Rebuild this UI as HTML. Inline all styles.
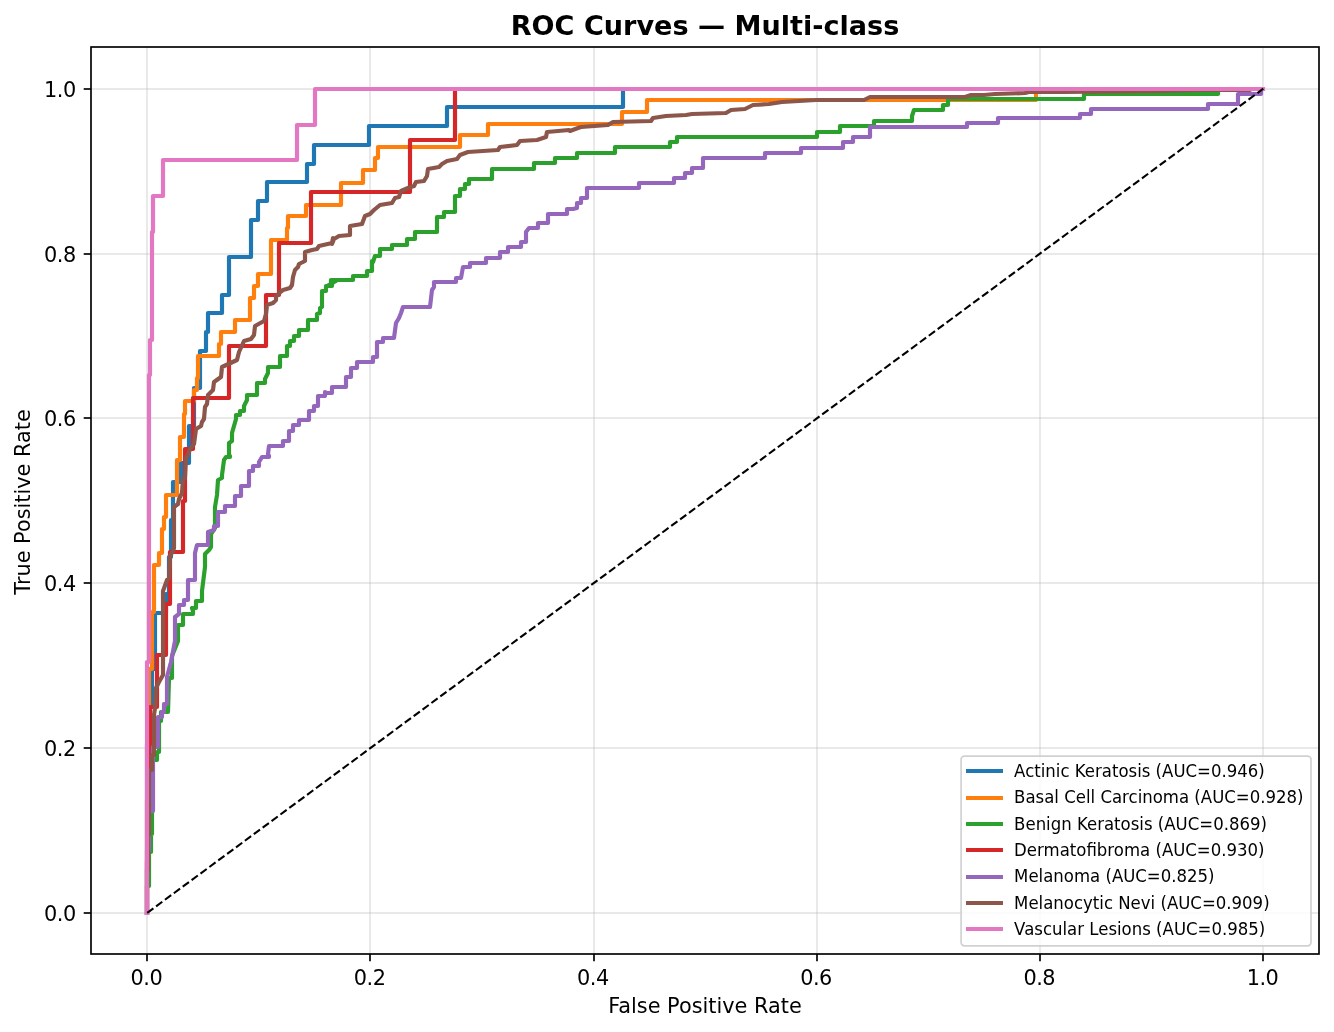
<!DOCTYPE html><html><head><meta charset="utf-8"><title>ROC Curves</title><style>html,body{margin:0;padding:0;background:#fff}svg{display:block}text{font-family:"DejaVu Sans","Liberation Sans",sans-serif;fill:#000}</style></head><body>
<svg width="1334" height="1032" viewBox="0 0 1334 1032">
<rect width="1334" height="1032" fill="#fff"/>
<g stroke="#b0b0b0" stroke-opacity="0.28" stroke-width="2">
<line x1="147" y1="47.0" x2="147" y2="954.0"/>
<line x1="91.0" y1="913" x2="1319.0" y2="913"/>
<line x1="370" y1="47.0" x2="370" y2="954.0"/>
<line x1="91.0" y1="748" x2="1319.0" y2="748"/>
<line x1="594" y1="47.0" x2="594" y2="954.0"/>
<line x1="91.0" y1="583" x2="1319.0" y2="583"/>
<line x1="817" y1="47.0" x2="817" y2="954.0"/>
<line x1="91.0" y1="418" x2="1319.0" y2="418"/>
<line x1="1040" y1="47.0" x2="1040" y2="954.0"/>
<line x1="91.0" y1="254" x2="1319.0" y2="254"/>
<line x1="1263" y1="47.0" x2="1263" y2="954.0"/>
<line x1="91.0" y1="89" x2="1319.0" y2="89"/>
</g>
<clipPath id="c"><rect x="91.0" y="47.0" width="1228.0" height="907.0"/></clipPath>
<g clip-path="url(#c)" fill="none" stroke-width="4.17" stroke-linejoin="round" stroke-linecap="square">
<path d="M147.0,913.0 L147.0,744.0 L150.0,744.0 L150.0,707.0 L152.0,707.0 L152.0,669.0 L155.0,669.0 L155.0,613.0 L166.0,613.0 L166.0,594.0 L169.0,594.0 L169.0,557.0 L171.0,557.0 L171.0,520.0 L173.0,520.0 L173.0,482.0 L181.0,482.0 L181.0,463.0 L189.0,463.0 L189.0,426.0 L194.0,426.0 L194.0,388.0 L200.0,388.0 L200.0,351.0 L206.0,351.0 L206.0,332.0 L208.0,332.0 L208.0,313.0 L222.0,313.0 L222.0,295.0 L229.0,295.0 L229.0,257.0 L251.0,257.0 L251.0,220.0 L258.0,220.0 L258.0,201.0 L267.0,201.0 L267.0,182.0 L307.0,182.0 L307.0,164.0 L314.0,164.0 L314.0,145.0 L369.0,145.0 L369.0,126.0 L447.0,126.0 L447.0,107.0 L623.0,107.0 L623.0,89.0 L1260.0,89.0" stroke="#1f77b4"/>
<path d="M147.0,913.0 L147.0,800.0 L149.0,800.0 L149.0,669.0 L152.0,669.0 L152.0,612.0 L154.0,612.0 L154.0,565.0 L159.0,565.0 L159.0,553.0 L162.0,553.0 L162.0,529.0 L164.0,529.0 L164.0,517.0 L166.0,517.0 L166.0,495.0 L177.0,495.0 L177.0,460.0 L180.0,460.0 L180.0,437.0 L184.0,437.0 L184.0,414.0 L185.0,414.0 L185.0,401.0 L194.0,401.0 L194.0,390.0 L197.0,390.0 L197.0,378.0 L198.0,378.0 L198.0,356.0 L219.0,356.0 L219.0,344.0 L221.0,344.0 L221.0,332.0 L235.0,332.0 L235.0,320.0 L250.0,320.0 L250.0,298.0 L254.0,298.0 L254.0,286.0 L258.0,286.0 L258.0,274.0 L271.0,274.0 L271.0,240.0 L287.0,240.0 L287.0,228.0 L288.0,228.0 L288.0,216.0 L306.0,216.0 L306.0,205.0 L341.0,205.0 L341.0,183.0 L363.0,183.0 L363.0,170.0 L375.0,170.0 L375.0,158.0 L378.0,158.0 L378.0,147.0 L460.0,147.0 L460.0,135.0 L488.0,135.0 L488.0,124.0 L622.0,124.0 L622.0,112.0 L647.0,112.0 L647.0,100.0 L1036.0,100.0 L1036.0,91.0 L1150.0,91.0 L1150.0,89.0 L1260.0,89.0" stroke="#ff7f0e"/>
<path d="M147.0,913.0 L147.0,886.0 L149.0,886.0 L149.0,852.0 L151.0,852.0 L151.0,834.0 L152.0,834.0 L152.0,760.0 L157.0,760.0 L157.0,752.0 L159.0,752.0 L159.0,721.0 L161.0,721.0 L161.0,712.0 L168.0,712.0 L169.0,678.0 L172.0,678.0 L172.0,656.0 L178.0,641.0 L178.0,625.0 L183.0,625.0 L183.0,614.0 L193.0,614.0 L193.0,611.0 L192.0,608.0 L196.0,608.0 L196.0,601.0 L202.0,601.0 L202.0,591.0 L205.0,567.0 L205.0,554.0 L209.0,550.0 L211.0,547.0 L211.0,534.0 L215.0,528.0 L215.0,507.0 L217.0,495.0 L218.0,480.0 L222.0,478.0 L222.0,475.0 L224.0,460.0 L226.0,457.0 L230.0,457.0 L230.0,456.0 L229.0,456.0 L229.0,443.0 L232.0,441.0 L232.0,433.0 L236.0,419.0 L236.0,415.0 L240.0,415.0 L240.0,411.0 L244.0,411.0 L244.0,406.0 L247.0,400.0 L247.0,395.0 L257.0,395.0 L257.0,383.0 L265.0,383.0 L265.0,379.0 L268.0,373.0 L268.0,367.0 L280.0,367.0 L280.0,356.0 L287.0,356.0 L287.0,346.0 L290.0,346.0 L290.0,341.0 L294.0,341.0 L294.0,336.0 L299.0,336.0 L299.0,330.0 L308.0,330.0 L308.0,320.0 L317.0,320.0 L317.0,314.0 L320.0,313.0 L320.0,308.0 L322.0,307.0 L322.0,301.0 L322.0,291.0 L326.0,291.0 L326.0,286.0 L332.0,286.0 L332.0,281.0 L336.0,281.0 L327.0,286.0 L331.0,286.0 L331.0,280.0 L353.0,280.0 L353.0,276.0 L367.0,276.0 L367.0,271.0 L372.0,271.0 L372.0,261.0 L373.0,262.0 L375.0,256.0 L380.0,256.0 L380.0,249.0 L392.0,249.0 L392.0,245.0 L407.0,245.0 L407.0,239.0 L415.0,239.0 L415.0,232.0 L437.0,232.0 L437.0,217.0 L444.0,217.0 L444.0,212.0 L455.0,212.0 L455.0,196.0 L460.0,196.0 L460.0,189.0 L465.0,189.0 L465.0,184.0 L469.0,184.0 L469.0,179.0 L492.0,179.0 L492.0,169.0 L534.0,169.0 L534.0,163.0 L555.0,163.0 L555.0,158.0 L573.0,158.0 L577.0,158.0 L577.0,153.0 L615.0,153.0 L615.0,147.0 L670.0,147.0 L670.0,142.0 L677.0,142.0 L677.0,137.0 L817.0,137.0 L817.0,133.0 L817.0,132.0 L840.0,132.0 L840.0,126.0 L874.0,126.0 L874.0,121.0 L912.0,121.0 L912.0,116.0 L914.0,110.0 L943.0,110.0 L943.0,105.0 L948.0,105.0 L948.0,99.0 L1065.0,99.0 L1084.0,99.0 L1084.0,94.0 L1218.0,94.0 L1218.0,89.0 L1260.0,89.0" stroke="#2ca02c"/>
<path d="M147.0,913.0 L147.0,861.0 L148.0,861.0 L148.0,810.0 L149.0,810.0 L149.0,758.0 L150.0,758.0 L150.0,707.0 L157.0,707.0 L157.0,655.0 L166.0,655.0 L166.0,604.0 L170.0,604.0 L170.0,552.0 L183.0,552.0 L183.0,501.0 L185.0,501.0 L185.0,449.0 L193.0,449.0 L193.0,398.0 L229.0,398.0 L229.0,346.0 L266.0,346.0 L266.0,295.0 L279.0,295.0 L279.0,243.0 L311.0,243.0 L311.0,192.0 L410.0,192.0 L410.0,140.0 L455.0,140.0 L455.0,89.0 L1260.0,89.0" stroke="#d62728"/>
<path d="M147.0,913.0 L147.0,850.0 L149.0,850.0 L149.0,811.0 L153.0,811.0 L153.0,747.0 L158.0,747.0 L158.0,717.0 L162.0,717.0 L162.0,712.0 L164.0,712.0 L164.0,704.0 L167.0,704.0 L167.0,677.0 L171.0,662.0 L175.0,641.0 L175.0,617.0 L179.0,614.0 L179.0,611.0 L179.0,605.0 L184.0,605.0 L184.0,600.0 L188.0,600.0 L188.0,580.0 L195.0,580.0 L195.0,553.0 L197.0,545.0 L208.0,545.0 L208.0,532.0 L214.0,530.0 L214.0,526.0 L218.0,526.0 L218.0,512.0 L225.0,512.0 L225.0,506.0 L235.0,506.0 L235.0,496.0 L241.0,496.0 L241.0,486.0 L249.0,486.0 L249.0,471.0 L253.0,471.0 L253.0,466.0 L259.0,466.0 L259.0,462.0 L262.0,457.0 L269.0,457.0 L269.0,456.0 L268.0,454.0 L269.0,446.0 L283.0,446.0 L283.0,441.0 L289.0,441.0 L289.0,431.0 L293.0,431.0 L293.0,425.0 L299.0,425.0 L299.0,420.0 L309.0,420.0 L309.0,411.0 L314.0,411.0 L314.0,406.0 L318.0,406.0 L318.0,396.0 L325.0,396.0 L325.0,392.0 L327.0,393.0 L332.0,393.0 L332.0,387.0 L346.0,387.0 L346.0,377.0 L351.0,377.0 L351.0,368.0 L357.0,368.0 L357.0,362.0 L373.0,362.0 L373.0,357.0 L377.0,357.0 L377.0,342.0 L383.0,342.0 L383.0,338.0 L394.0,338.0 L396.0,323.0 L399.0,318.0 L401.0,313.0 L403.0,307.0 L430.0,307.0 L432.0,290.0 L434.0,287.0 L434.0,282.0 L456.0,282.0 L456.0,278.0 L461.0,278.0 L463.0,267.0 L470.0,267.0 L470.0,263.0 L486.0,263.0 L486.0,258.0 L500.0,258.0 L500.0,252.0 L508.0,252.0 L508.0,247.0 L521.0,247.0 L521.0,242.0 L526.0,242.0 L526.0,232.0 L529.0,228.0 L538.0,228.0 L538.0,223.0 L548.0,223.0 L548.0,214.0 L567.0,214.0 L567.0,209.0 L573.0,209.0 L577.0,208.0 L577.0,203.0 L581.0,203.0 L581.0,198.0 L587.0,198.0 L587.0,188.0 L639.0,188.0 L639.0,183.0 L674.0,183.0 L674.0,178.0 L685.0,178.0 L685.0,173.0 L692.0,173.0 L692.0,168.0 L703.0,168.0 L703.0,158.0 L765.0,158.0 L765.0,153.0 L801.0,153.0 L801.0,148.0 L816.0,148.0 L815.0,148.0 L843.0,148.0 L843.0,142.0 L853.0,142.0 L853.0,137.0 L870.0,137.0 L870.0,127.0 L967.0,127.0 L967.0,123.0 L998.0,123.0 L998.0,118.0 L1061.0,118.0 L1060.0,118.0 L1080.0,118.0 L1080.0,114.0 L1091.0,114.0 L1091.0,109.0 L1208.0,109.0 L1208.0,104.0 L1238.0,104.0 L1238.0,94.0 L1261.0,94.0 L1261.0,89.0" stroke="#9467bd"/>
<path d="M147.0,913.0 L147.0,870.0 L148.0,870.0 L148.0,835.0 L149.0,835.0 L149.0,770.0 L152.0,770.0 L152.0,755.0 L154.0,755.0 L154.0,715.0 L155.0,708.0 L156.0,688.0 L159.0,682.0 L163.0,675.0 L163.0,610.0 L163.0,591.0 L167.0,580.0 L169.0,578.0 L170.0,556.0 L173.0,551.0 L174.0,548.0 L174.0,507.0 L178.0,504.0 L179.0,499.0 L182.0,493.0 L183.0,479.0 L185.0,478.0 L186.0,458.0 L188.0,455.0 L190.0,449.0 L194.0,444.0 L196.0,429.0 L201.0,426.0 L202.0,422.0 L204.0,419.0 L205.0,407.0 L207.0,404.0 L208.0,395.0 L213.0,390.0 L214.0,382.0 L221.0,377.0 L222.0,367.0 L237.0,360.0 L239.0,352.0 L244.0,341.0 L251.0,339.0 L254.0,335.0 L255.0,326.0 L264.0,321.0 L266.0,314.0 L267.0,305.0 L273.0,303.0 L276.0,300.0 L276.0,297.0 L279.0,293.0 L283.0,290.0 L290.0,288.0 L292.0,285.0 L293.0,277.0 L295.0,270.0 L298.0,267.0 L299.0,264.0 L305.0,261.0 L305.0,252.0 L312.0,250.0 L317.0,249.0 L319.0,246.0 L332.0,243.0 L333.0,238.0 L332.0,244.0 L334.0,239.0 L339.0,236.0 L350.0,235.0 L350.0,226.0 L362.0,224.0 L365.0,216.0 L370.0,214.0 L374.0,210.0 L380.0,205.0 L392.0,203.0 L395.0,198.0 L399.0,197.0 L401.0,191.0 L408.0,188.0 L414.0,186.0 L416.0,182.0 L424.0,181.0 L427.0,176.0 L428.0,169.0 L439.0,167.0 L442.0,164.0 L447.0,161.0 L457.0,159.0 L460.0,155.0 L468.0,152.0 L498.0,150.0 L500.0,147.0 L517.0,145.0 L520.0,141.0 L537.0,140.0 L546.0,137.0 L547.0,132.0 L569.0,130.0 L570.0,131.0 L578.0,128.0 L581.0,127.0 L608.0,125.0 L613.0,122.0 L651.0,121.0 L653.0,118.0 L666.0,116.0 L686.0,115.0 L692.0,114.0 L726.0,113.0 L731.0,110.0 L745.0,109.0 L753.0,105.0 L769.0,104.0 L782.0,102.0 L799.0,101.0 L816.0,100.0 L815.0,100.0 L864.0,100.0 L870.0,97.0 L965.0,97.0 L971.0,95.0 L984.0,95.0 L995.0,94.0 L1025.0,93.0 L1029.0,92.0 L1065.0,92.0 L1160.0,91.0 L1200.0,90.0 L1230.0,90.0 L1250.0,90.0 L1250.0,89.0 L1260.0,89.0" stroke="#8c564b"/>
<path d="M147.0,913.0 L147.0,662.0 L149.0,662.0 L149.0,375.0 L150.0,375.0 L150.0,340.0 L152.0,340.0 L152.0,232.0 L153.0,232.0 L153.0,196.0 L163.0,196.0 L163.0,160.0 L297.0,160.0 L297.0,125.0 L315.0,125.0 L315.0,89.0 L1263.0,89.0" stroke="#e377c2"/>
<path d="M147.20,912.90 L1263.30,88.70" stroke="#000" stroke-width="2.08" stroke-dasharray="7.708,3.333" stroke-linecap="butt"/>
</g>
<g stroke="#000" stroke-width="1.67">
<line x1="147" y1="954.0" x2="147" y2="961.3"/>
<line x1="91.0" y1="913" x2="83.7" y2="913"/>
<line x1="370" y1="954.0" x2="370" y2="961.3"/>
<line x1="91.0" y1="748" x2="83.7" y2="748"/>
<line x1="594" y1="954.0" x2="594" y2="961.3"/>
<line x1="91.0" y1="583" x2="83.7" y2="583"/>
<line x1="817" y1="954.0" x2="817" y2="961.3"/>
<line x1="91.0" y1="418" x2="83.7" y2="418"/>
<line x1="1040" y1="954.0" x2="1040" y2="961.3"/>
<line x1="91.0" y1="254" x2="83.7" y2="254"/>
<line x1="1263" y1="954.0" x2="1263" y2="961.3"/>
<line x1="91.0" y1="89" x2="83.7" y2="89"/>
</g>
<rect x="91.0" y="47.0" width="1228.0" height="907.0" fill="none" stroke="#000" stroke-width="1.67"/>
<g font-size="20.83" letter-spacing="-0.5">
<text x="146.40" y="985" text-anchor="middle">0.0</text>
<text x="75.7" y="921" text-anchor="end">0.0</text>
<text x="369.62" y="985" text-anchor="middle">0.2</text>
<text x="75.7" y="756" text-anchor="end">0.2</text>
<text x="592.84" y="985" text-anchor="middle">0.4</text>
<text x="75.7" y="591" text-anchor="end">0.4</text>
<text x="816.06" y="985" text-anchor="middle">0.6</text>
<text x="75.7" y="426" text-anchor="end">0.6</text>
<text x="1039.28" y="985" text-anchor="middle">0.8</text>
<text x="75.7" y="262" text-anchor="end">0.8</text>
<text x="1262.50" y="985" text-anchor="middle">1.0</text>
<text x="75.7" y="97" text-anchor="end">1.0</text>
</g>
<text x="705.0" y="1012.9" font-size="20.83" text-anchor="middle">False Positive Rate</text>
<text transform="translate(30,502.0) rotate(-90)" font-size="20.83" text-anchor="middle">True Positive Rate</text>
<text x="705.0" y="34.5" font-size="27.08" font-weight="bold" text-anchor="middle">ROC Curves — Multi-class</text>
<rect x="961.1" y="756.05" width="349.9" height="189.8" rx="3.3" ry="3.3" fill="#fff" fill-opacity="0.8" stroke="#ccc" stroke-opacity="0.9" stroke-width="1.67"/>
<line x1="968.1" y1="771" x2="1000.9" y2="771" stroke="#1f77b4" stroke-width="4.17" stroke-linecap="square"/>
<text transform="translate(1014.1,777) scale(0.993,1.09)" font-size="16.67">Actinic Keratosis (AUC=0.946)</text>
<line x1="968.1" y1="798" x2="1000.9" y2="798" stroke="#ff7f0e" stroke-width="4.17" stroke-linecap="square"/>
<text transform="translate(1014.1,803) scale(0.993,1.09)" font-size="16.67">Basal Cell Carcinoma (AUC=0.928)</text>
<line x1="968.1" y1="824" x2="1000.9" y2="824" stroke="#2ca02c" stroke-width="4.17" stroke-linecap="square"/>
<text transform="translate(1014.1,830) scale(0.993,1.09)" font-size="16.67">Benign Keratosis (AUC=0.869)</text>
<line x1="968.1" y1="850" x2="1000.9" y2="850" stroke="#d62728" stroke-width="4.17" stroke-linecap="square"/>
<text transform="translate(1014.1,856) scale(0.993,1.09)" font-size="16.67">Dermatofibroma (AUC=0.930)</text>
<line x1="968.1" y1="877" x2="1000.9" y2="877" stroke="#9467bd" stroke-width="4.17" stroke-linecap="square"/>
<text transform="translate(1014.1,882) scale(0.993,1.09)" font-size="16.67">Melanoma (AUC=0.825)</text>
<line x1="968.1" y1="903" x2="1000.9" y2="903" stroke="#8c564b" stroke-width="4.17" stroke-linecap="square"/>
<text transform="translate(1014.1,909) scale(0.993,1.09)" font-size="16.67">Melanocytic Nevi (AUC=0.909)</text>
<line x1="968.1" y1="929" x2="1000.9" y2="929" stroke="#e377c2" stroke-width="4.17" stroke-linecap="square"/>
<text transform="translate(1014.1,935) scale(0.993,1.09)" font-size="16.67">Vascular Lesions (AUC=0.985)</text>
</svg></body></html>
